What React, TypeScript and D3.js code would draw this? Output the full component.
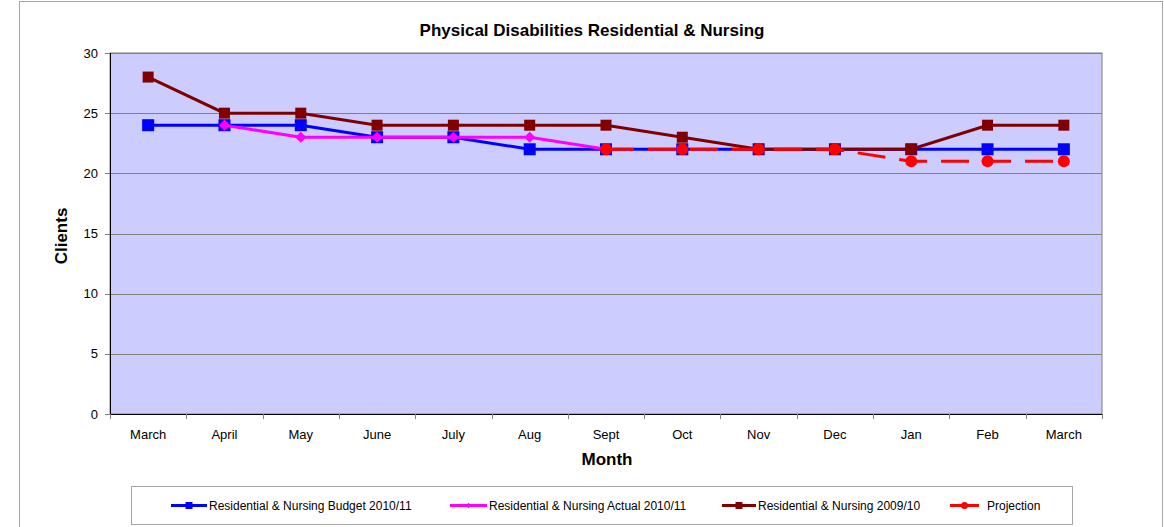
import React, { useEffect, useRef } from 'react';
import * as d3 from 'd3';

const months = ['March', 'April', 'May', 'June', 'July', 'Aug', 'Sept', 'Oct', 'Nov', 'Dec', 'Jan', 'Feb', 'March'];
const budget2010 = [24, 24, 24, 23, 23, 22, 22, 22, 22, 22, 22, 22, 22];
const actual2010 = [null, 24, 23, 23, 23, 23, 22, null, null, null, null, null, null];
const res2009 = [28, 25, 25, 24, 24, 24, 24, 23, 22, 22, 22, 24, 24];
const projection = [null, null, null, null, null, null, 22, 22, 22, 22, 21, 21, 21];
const yTicks = [0, 5, 10, 15, 20, 25, 30];

const seriesNames = [
  'Residential & Nursing Budget 2010/11',
  'Residential & Nursing Actual 2010/11',
  'Residential & Nursing 2009/10',
  'Projection'
];

export default () => {
  const width = 1164;
  const height = 527;
  const svgRef = useRef<SVGSVGElement>(null);

  const plotLeft = 110;
  const plotRight = 1102;
  const plotTop = 53;
  const plotBottom = 414;
  const font = 'Liberation Sans, Arial, sans-serif';

  useEffect(() => {
    if (!svgRef.current) return;
    const svg = d3.select(svgRef.current);
    svg.selectAll('*').remove();

    // outer chart border
    svg.append('rect')
      .attr('x', 19.5).attr('y', 1.5)
      .attr('width', 1143).attr('height', 540)
      .attr('fill', '#fff').attr('stroke', '#a6a6a6').attr('stroke-width', 1);

    const x = d3.scaleBand<number>()
      .domain(months.map((_, i) => i))
      .range([plotLeft, plotRight]);
    const cx = (i: number) => (x(i) || 0) + x.bandwidth() / 2;
    const y = d3.scaleLinear().domain([0, 30]).range([plotBottom, plotTop]);

    // plot area
    svg.append('rect')
      .attr('x', plotLeft).attr('y', plotTop)
      .attr('width', plotRight - plotLeft).attr('height', plotBottom - plotTop)
      .attr('fill', '#ccccff').attr('stroke', '#808080').attr('stroke-width', 1);

    // grid
    svg.append('g').selectAll('line')
      .data(yTicks.filter(d => d > 0))
      .enter().append('line')
      .attr('x1', plotLeft).attr('x2', plotRight)
      .attr('y1', d => Math.round(y(d)) + 0.5).attr('y2', d => Math.round(y(d)) + 0.5)
      .attr('stroke', '#808080').attr('stroke-width', 1);

    // axes
    svg.append('line')
      .attr('x1', plotLeft + 0.5).attr('x2', plotLeft + 0.5)
      .attr('y1', plotTop).attr('y2', plotBottom)
      .attr('stroke', '#000').attr('stroke-width', 1);
    svg.append('line')
      .attr('x1', plotLeft).attr('x2', plotRight)
      .attr('y1', plotBottom + 0.5).attr('y2', plotBottom + 0.5)
      .attr('stroke', '#000').attr('stroke-width', 1);

    const yAxis = svg.append('g');
    yAxis.selectAll('line')
      .data(yTicks)
      .enter().append('line')
      .attr('x1', plotLeft - 5).attr('x2', plotLeft)
      .attr('y1', d => Math.round(y(d)) + 0.5).attr('y2', d => Math.round(y(d)) + 0.5)
      .attr('stroke', '#808080');
    yAxis.selectAll('text')
      .data(yTicks)
      .enter().append('text')
      .text(d => String(d))
      .attr('x', plotLeft - 12).attr('y', d => y(d) + 4.5)
      .attr('text-anchor', 'end')
      .attr('style', `font-family: ${font}; font-size: 13px; fill: #000;`);

    const xAxis = svg.append('g');
    xAxis.selectAll('line')
      .data(d3.range(months.length + 1))
      .enter().append('line')
      .attr('x1', d => Math.round(plotLeft + d * x.bandwidth()) + 0.5)
      .attr('x2', d => Math.round(plotLeft + d * x.bandwidth()) + 0.5)
      .attr('y1', plotBottom).attr('y2', plotBottom + 5)
      .attr('stroke', '#808080');
    xAxis.selectAll('text')
      .data(months)
      .enter().append('text')
      .text(d => d)
      .attr('x', (_, i) => cx(i)).attr('y', plotBottom + 25)
      .attr('text-anchor', 'middle')
      .attr('style', `font-family: ${font}; font-size: 13px; fill: #000;`);

    // titles
    svg.append('text')
      .text('Physical Disabilities Residential & Nursing')
      .attr('x', 592).attr('y', 36)
      .attr('text-anchor', 'middle')
      .attr('style', `font-family: ${font}; font-size: 17px; font-weight: bold;`);
    svg.append('text')
      .text('Month')
      .attr('x', 607).attr('y', 465)
      .attr('text-anchor', 'middle')
      .attr('style', `font-family: ${font}; font-size: 17px; font-weight: bold;`);
    svg.append('text')
      .text('Clients')
      .attr('transform', `translate(67, 236) rotate(-90)`)
      .attr('text-anchor', 'middle')
      .attr('style', `font-family: ${font}; font-size: 17px; font-weight: bold;`);

    const line = d3.line<number | null>()
      .defined(d => d !== null)
      .x((_, i) => cx(i))
      .y(d => y(d as number));

    const pts = (arr: (number | null)[]) =>
      arr.map((v, i) => ({ v, i })).filter(d => d.v !== null) as { v: number, i: number }[];

    const drawSquares = (g: any, arr: (number | null)[], size: number, color: string) => {
      g.selectAll('rect.m')
        .data(pts(arr))
        .enter().append('rect')
        .attr('x', (d: any) => cx(d.i) - size / 2)
        .attr('y', (d: any) => y(d.v) - size / 2)
        .attr('width', size).attr('height', size)
        .attr('fill', color);
    };

    // budget
    const gB = svg.append('g');
    gB.append('path').attr('d', line(budget2010) as string)
      .attr('fill', 'none').attr('stroke', '#0000ff').attr('stroke-width', 3);
    drawSquares(gB, budget2010, 12, '#0000ff');

    // actual
    const gA = svg.append('g');
    gA.append('path').attr('d', line(actual2010) as string)
      .attr('fill', 'none').attr('stroke', '#ff00ff').attr('stroke-width', 3);
    gA.selectAll('path.m')
      .data(pts(actual2010))
      .enter().append('path')
      .attr('d', d3.symbol().type(d3.symbolDiamond2).size(80) as any)
      .attr('transform', d => `translate(${cx(d.i)},${y(d.v)})`)
      .attr('fill', '#ff00ff');

    // 2009/10
    const gR = svg.append('g');
    gR.append('path').attr('d', line(res2009) as string)
      .attr('fill', 'none').attr('stroke', '#800000').attr('stroke-width', 3);
    drawSquares(gR, res2009, 11, '#800000');

    // projection
    const gP = svg.append('g');
    gP.append('path').attr('d', line(projection) as string)
      .attr('fill', 'none').attr('stroke', '#ff0000').attr('stroke-width', 3)
      .attr('stroke-dasharray', '28,14');
    gP.selectAll('circle')
      .data(pts(projection))
      .enter().append('circle')
      .attr('cx', d => cx(d.i)).attr('cy', d => y(d.v)).attr('r', 6)
      .attr('fill', '#ff0000');

    // legend
    const legend = svg.append('g');
    legend.append('rect')
      .attr('x', 131.5).attr('y', 486.5).attr('width', 941).attr('height', 38)
      .attr('fill', '#fff').attr('stroke', '#a6a6a6');
    const legendColors = ['#0000ff', '#ff00ff', '#800000', '#ff0000'];
    const legendX = [171, 450, 722, 950];
    const legendLen = [36, 37, 34, 29];
    const legendTextX = [209, 489, 758, 987];
    seriesNames.forEach((name, k) => {
      const ly = 505.5;
      legend.append('line')
        .attr('x1', legendX[k]).attr('x2', legendX[k] + legendLen[k])
        .attr('y1', ly).attr('y2', ly)
        .attr('stroke', legendColors[k]).attr('stroke-width', 3);
      const mx = legendX[k] + legendLen[k] / 2;
      if (k === 0 || k === 2) {
        legend.append('rect')
          .attr('x', mx - 3.5).attr('y', ly - 3.5).attr('width', 7).attr('height', 7)
          .attr('fill', legendColors[k]);
      } else if (k === 1) {
        legend.append('path')
          .attr('d', d3.symbol().type(d3.symbolDiamond2).size(20) as any)
          .attr('transform', `translate(${mx},${ly})`)
          .attr('fill', legendColors[k]);
      } else {
        legend.append('circle')
          .attr('cx', mx).attr('cy', ly).attr('r', 3.5)
          .attr('fill', legendColors[k]);
      }
      legend.append('text')
        .text(name)
        .attr('x', legendTextX[k]).attr('y', ly + 4.5)
        .attr('style', `font-family: ${font}; font-size: 12px; fill: #000;`);
    });
  }, []);

  return (
    <div style={{ position: 'absolute', left: 0, top: 0, width, height, overflow: 'hidden' }}>
      <svg ref={svgRef} width={width} height={height} style={{ display: 'block' }} />
    </div>
  );
};
